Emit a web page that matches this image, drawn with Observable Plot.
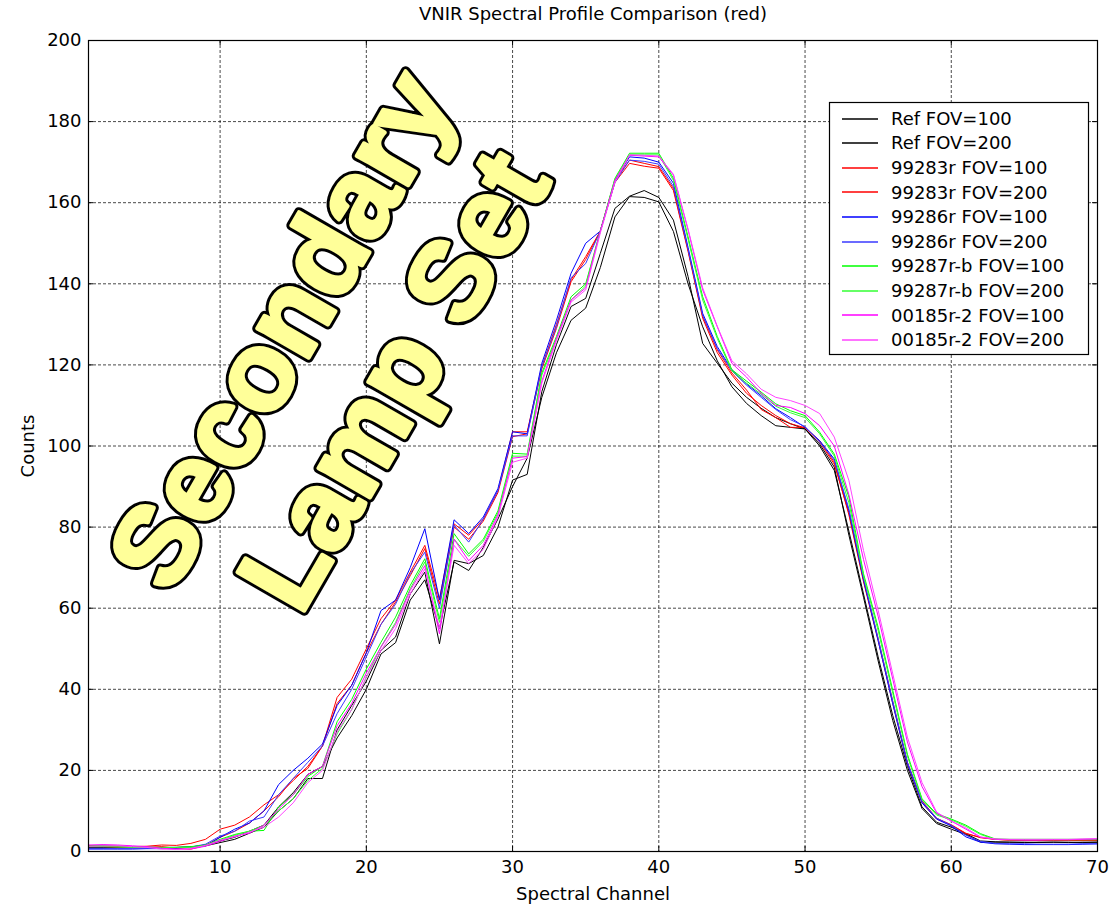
<!DOCTYPE html>
<html><head><meta charset="utf-8">
<script src="https://cdn.jsdelivr.net/npm/d3@7"></script>
<script src="https://cdn.jsdelivr.net/npm/@observablehq/plot@0.6"></script>
<style>body{margin:0;background:#fff;} #chart svg{display:block;}</style>
</head><body><div id="chart"></div>
<script>
const channels = [1,2,3,4,5,6,7,8,9,10,11,12,13,14,15,16,17,18,19,20,21,22,23,24,25,26,27,28,29,30,31,32,33,34,35,36,37,38,39,40,41,42,43,44,45,46,47,48,49,50,51,52,53,54,55,56,57,58,59,60,61,62,63,64,65,66,67,68,69,70];

const ref100 = [1.0,1.0,1.0,1.0,1.0,1.0,1.0,1.1,1.4, 2.2,3.0,4.5,6.0,10.0,13.0,18.0,18.0,30.0,36.0,42.0, 49.6,52.9,63.5,68.9,51.2,71.8,71.0,73.0,80.0,91.6, 93.0,113.4,125.0,134.4,136.4,147.5,158.6,161.6,163.0,161.3, 155.7,141.8,125.3,120.4,115.5,112.0,109.3,107.0,105.5,104.2, 100.5,94.8,78.0,62.7,47.0,32.3,20.0,10.6,6.9,5.5, 4.2,2.3,2.3,2.3,2.2,2.3,2.3,2.2,2.3,2.3];
const ref200 = [0.8,0.8,0.9,0.9,0.9,1.0,1.0,1.1,1.6, 2.6,3.5,5.0,6.5,11.0,14.5,19.0,21.0,28.0,33.5,40.0, 48.7,51.5,62.0,67.0,55.0,71.4,69.3,75.0,82.0,90.0, 97.0,112.0,123.0,131.0,134.0,144.0,156.5,161.5,161.3,160.2, 152.9,140.0,129.4,121.0,114.6,110.5,107.5,105.0,104.6,104.2, 100.0,94.0,79.0,63.5,48.0,33.5,21.0,11.0,7.2,6.0, 4.4,2.6,2.4,2.3,2.3,2.2,2.3,2.3,2.2,2.3];
const r283_100 = [1.5,1.4,1.3,1.2,1.3,1.6,1.5,2.0,3.0, 5.5,6.5,8.5,11.5,14.0,17.5,21.0,26.0,38.0,42.5,50.0, 57.4,62.0,68.9,75.5,62.3,80.8,78.0,82.0,89.0,103.5, 103.5,119.6,130.0,141.0,146.7,153.0,165.5,170.5,169.7,168.9, 163.5,148.3,132.0,123.7,118.0,113.8,109.0,107.0,104.6,104.6, 101.3,96.0,83.0,66.5,52.0,36.5,21.7,12.0,8.0,6.5, 4.4,3.5,3.0,2.8,2.7,2.7,2.7,2.7,2.7,2.7];
const r283_200 = [1.2,1.2,1.1,1.0,1.0,1.2,0.8,0.6,1.5, 3.5,5.0,7.0,10.0,13.5,18.0,20.5,26.0,36.5,41.0,49.0, 56.0,61.5,68.0,74.7,61.0,80.0,77.0,81.5,88.5,102.3, 103.0,119.0,129.0,140.5,146.0,153.0,165.0,169.7,169.0,168.5, 163.0,148.0,131.5,123.0,117.5,113.0,110.0,107.5,105.5,104.5, 101.0,95.5,83.5,67.0,52.5,37.0,22.0,12.5,8.2,6.6, 4.5,3.4,3.0,2.8,2.8,2.7,2.8,2.8,2.7,2.8];
const r286_100 = [0.6,0.6,0.6,0.6,0.7,0.7,0.8,1.0,1.4, 3.5,5.5,7.0,10.0,16.5,20.0,23.0,26.5,36.0,41.0,49.0, 59.4,62.0,70.0,79.6,62.0,81.8,78.4,82.5,89.5,103.5, 103.0,120.4,131.0,142.6,150.0,153.0,165.5,171.3,171.0,170.0, 164.8,149.0,132.7,124.5,118.8,115.3,112.4,109.2,107.0,104.6, 101.3,96.8,84.0,67.0,52.0,36.4,21.7,12.0,8.0,6.3, 3.6,2.3,1.9,1.8,1.7,1.7,1.7,1.7,1.8,1.9];
const r286_200 = [0.8,0.8,0.7,0.8,0.8,0.9,1.0,1.1,1.8, 3.8,5.0,7.5,8.5,14.0,18.0,22.0,26.0,34.0,40.0,48.0, 56.0,61.0,68.5,73.8,60.0,80.5,76.3,82.0,89.0,102.5, 102.5,119.5,129.5,141.5,145.0,153.0,165.0,170.5,170.2,169.5, 164.0,148.5,132.2,124.0,118.5,115.0,112.0,109.0,106.5,104.8, 101.0,96.5,84.5,67.5,52.5,37.0,22.0,12.3,8.2,6.5, 4.0,2.5,2.0,1.9,1.9,1.8,1.8,1.8,1.9,1.9];
const r287_100 = [1.4,1.5,1.3,1.2,1.1,1.0,1.0,1.2,1.6, 3.0,4.2,5.0,5.2,11.0,14.0,18.5,21.0,32.0,37.5,45.0, 51.6,57.8,65.6,72.2,57.4,78.4,73.4,77.0,84.0,98.2, 98.0,118.0,127.0,136.8,140.0,153.0,166.0,172.2,172.2,172.2, 166.0,151.6,136.8,127.0,118.8,116.0,113.3,110.4,108.7,107.5, 103.4,98.0,87.4,68.5,55.3,39.7,24.0,13.0,9.3,8.0, 6.5,4.4,3.1,3.0,3.0,3.0,3.0,3.0,3.0,3.0];
const r287_200 = [1.2,1.2,1.1,1.0,1.0,0.9,1.0,1.0,1.4, 2.8,4.0,5.0,6.5,10.0,13.0,17.5,20.5,29.0,35.0,43.0, 50.5,56.5,64.8,71.4,56.5,77.0,72.8,76.5,83.5,97.5, 97.5,117.5,126.5,136.0,139.5,153.0,165.8,171.8,171.8,171.8, 165.5,151.0,136.0,126.5,118.5,115.5,112.8,109.8,108.2,107.0, 103.0,97.5,86.0,68.0,54.5,39.0,23.5,12.8,9.0,7.8, 6.2,4.2,3.0,2.9,2.9,2.9,2.9,2.9,2.9,2.9];
const r185_100 = [1.6,1.7,1.6,1.4,1.2,0.8,0.6,0.6,1.3, 2.5,3.8,4.5,6.5,10.5,14.0,19.0,21.0,31.0,36.5,44.0, 50.4,56.0,64.4,70.5,53.7,77.0,71.7,75.5,83.0,97.0, 97.4,116.0,126.5,136.0,139.0,153.0,165.5,171.7,171.5,171.3, 166.8,153.3,138.5,129.4,120.4,117.0,113.0,110.0,109.5,108.0, 105.0,100.0,88.0,72.0,58.0,42.5,27.0,16.0,9.5,7.5, 5.5,3.5,3.0,2.9,2.8,2.8,2.9,2.9,3.0,3.1];
const r185_200 = [1.3,1.4,1.4,1.2,1.0,0.6,0.5,0.8,1.5, 2.8,3.6,4.8,6.0,8.5,12.0,17.0,20.0,29.5,35.0,43.0, 49.5,55.0,63.5,69.7,55.0,75.5,71.0,74.5,82.5,96.0, 97.0,115.5,126.0,135.5,138.5,152.5,165.0,171.8,171.7,171.5, 167.0,153.5,139.0,129.5,121.0,117.8,114.0,112.0,111.2,110.0, 108.0,102.2,91.5,74.2,59.5,43.8,28.2,17.0,9.7,7.5, 5.8,3.6,3.1,3.0,3.0,3.0,3.0,3.0,3.1,3.2];

const seriesNames = ["Ref FOV=100","Ref FOV=200","99283r FOV=100","99283r FOV=200","99286r FOV=100","99286r FOV=200","99287r-b FOV=100","99287r-b FOV=200","00185r-2 FOV=100","00185r-2 FOV=200"];
const seriesColors = ["#000000","#000000","#ff0000","#ff0000","#0000ff","#3a3aff","#00ff00","#33ff33","#ff00ff","#ff44ff"];
const seriesValues = [ref100, ref200, r283_100, r283_200, r286_100, r286_200, r287_100, r287_200, r185_100, r185_200];

const xTicks = [10,20,30,40,50,60,70];
const yTicks = [0,20,40,60,80,100,120,140,160,180,200];

const overlayLines = ["Secondary", "Lamp Set"];
const overlayX = [14.3, 22.0];
const overlayY = [128.5, 116.0];

const titleText = "VNIR Spectral Profile Comparison (red)";
const xLabel = "Spectral Channel";
const yLabel = "Counts";

const table = [];
seriesValues.forEach((vals, i) => vals.forEach((v, j) => table.push({channel: channels[j], value: v, series: seriesNames[i], color: seriesColors[i]})));
const overlay = overlayLines.map((t, i) => ({text: t, x: overlayX[i], y: overlayY[i]}));

const W = 1117, H = 904, mL = 88, mR = 20, mT = 40, mB = 53;
const pw = W - mL - mR, ph = H - mT - mB;
const font = "'DejaVu Sans', Verdana, sans-serif";
const bigFont = "'Liberation Sans', Arial, Helvetica, sans-serif";
const fs = 18;

const plot = Plot.plot({
  width: W, height: H,
  marginLeft: mL, marginRight: mR, marginTop: mT, marginBottom: mB,
  x: {domain: [1, 70]},
  y: {domain: [0, 200]},
  color: {type: "identity"},
  style: {fontFamily: font, fontSize: fs + "px", background: "#fff", color: "#000"},
  marks: [
    Plot.gridX(xTicks, {stroke: "#000", strokeOpacity: 0.8, strokeDasharray: "3,2", strokeWidth: 0.9}),
    Plot.gridY(yTicks, {stroke: "#000", strokeOpacity: 0.8, strokeDasharray: "3,2", strokeWidth: 0.9}),
    Plot.line(table, {x: "channel", y: "value", z: "series", stroke: "color", strokeWidth: 1}),
    Plot.text(overlay, {x: "x", y: "y", text: "text", rotate: -60, fontSize: 112, fontWeight: "bold", fill: "#000", stroke: "#000", strokeWidth: 10, strokeLinejoin: "round", fontFamily: bigFont}),
    Plot.text(overlay, {x: "x", y: "y", text: "text", rotate: -60, fontSize: 112, fontWeight: "bold", fill: "#ffff99", stroke: "#ffff99", strokeWidth: 4, strokeLinejoin: "round", fontFamily: bigFont}),
    Plot.frame({stroke: "#000", strokeWidth: 1.2}),
    Plot.tickX(xTicks, {x: d => d, insetTop: ph - 5, stroke: "#000"}),
    Plot.tickX(xTicks, {x: d => d, insetBottom: ph - 5, stroke: "#000"}),
    Plot.tickY(yTicks, {y: d => d, insetRight: pw - 5, stroke: "#000"}),
    Plot.tickY(yTicks, {y: d => d, insetLeft: pw - 5, stroke: "#000"}),
    Plot.axisX(xTicks, {tickSize: 0, tickPadding: 9, label: null, fontSize: fs}),
    Plot.axisY(yTicks, {tickSize: 0, tickPadding: 7, label: null, fontSize: fs}),
    Plot.text([titleText], {frameAnchor: "top", dy: -26, lineAnchor: "middle", textAnchor: "middle", fontSize: fs, text: d => d}),
    Plot.text([xLabel], {frameAnchor: "bottom", dy: 43, lineAnchor: "middle", textAnchor: "middle", fontSize: fs, text: d => d}),
    Plot.text([yLabel], {frameAnchor: "left", dx: -60, rotate: -90, lineAnchor: "middle", textAnchor: "middle", fontSize: fs, text: d => d})
  ]
});

// Legend box (MATLAB style)
const svg = d3.select(plot);
const lg = svg.append("g").attr("font-family", font).attr("font-size", fs).attr("text-anchor", "start");
const bx = 829, by = 102, bw = 259, bh = 252, rowH = 24.6, row0 = 118.5;
lg.append("rect").attr("x", bx + 0.5).attr("y", by + 0.5).attr("width", bw).attr("height", bh).attr("fill", "#fff").attr("stroke", "#000").attr("stroke-width", 1.2);
seriesNames.forEach((name, i) => {
  const yy = row0 + i * rowH;
  const yl = Math.round(yy);
  lg.append("line").attr("x1", 842).attr("x2", 878).attr("y1", yl).attr("y2", yl).attr("stroke", seriesColors[i]).attr("stroke-width", 1.6);
  lg.append("text").attr("x", 891).attr("y", yy).attr("dy", "0.35em").attr("text-anchor", "start").attr("fill", "#000").text(name);
});

document.getElementById("chart").appendChild(plot);
</script>
</body></html>
